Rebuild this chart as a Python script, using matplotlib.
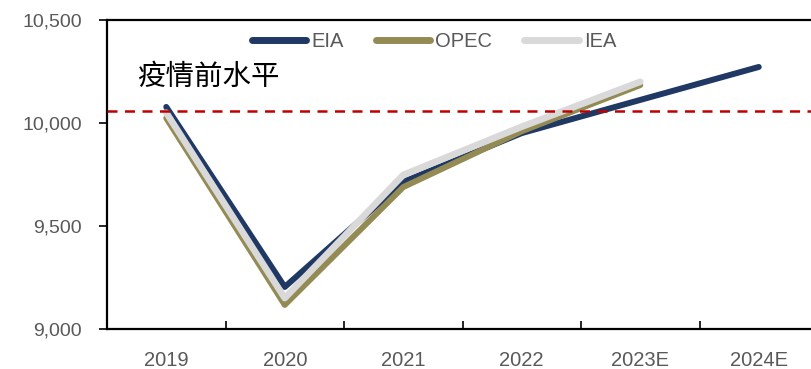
import matplotlib
matplotlib.use("Agg")
import matplotlib.pyplot as plt
import numpy as np

categories = ["2019", "2020", "2021", "2022", "2023E", "2024E"]
eia = [10078, 9204, 9714, 9951, 10112, 10272]
opec = [10024, 9117, 9689, 9960, 10184]
iea = [10050, 9150, 9748, 9982, 10200]
pre_covid = 10058
annotation = "疫情前水平"

plt.rcParams['font.family'] = ['Liberation Sans', 'DejaVu Sans']

fig = plt.figure(figsize=(8.11, 3.69), dpi=100)
ax = fig.add_axes([107/811, 40/369, 711/811, 309/369])

x = np.arange(len(categories))
ax.plot(x[:len(eia)], eia, color="#1F3864", lw=4.3, solid_capstyle="round", zorder=3, label="EIA")
ax.plot(x[:len(opec)], opec, color="#948A54", lw=4.3, solid_capstyle="round", zorder=4, label="OPEC")
ax.plot(x[:len(iea)], iea, color="#D9D9D9", lw=4.8, solid_capstyle="round", zorder=5, label="IEA")
ax.axhline(pre_covid, color="#C00000", lw=1.8, ls=(0, (4, 3)), zorder=6)

ax.text(-0.25, 10225, annotation, fontsize=20.5, family=['Noto Sans CJK SC', 'DejaVu Sans'],
        color="black", va="center", ha="left")

ax.set_xlim(-0.5, 5.5)
ax.set_ylim(9000, 10500)
ax.set_yticks([9000, 9500, 10000, 10500])
ax.set_yticklabels(["9,000", "9,500", "10,000", "10,500"])

ax.set_xticks(np.arange(0.5, 5.0, 1.0))
ax.set_xticklabels([])
ax.tick_params(axis="x", which="major", direction="in", length=6, width=1.2, color="black")
ax.set_xticks(x, minor=True)
ax.set_xticklabels(categories, minor=True)
ax.tick_params(axis="x", which="minor", length=0, pad=16, labelsize=14.5, labelcolor="#595959")
ax.tick_params(axis="y", direction="out", length=6, width=1.2, labelsize=14, labelcolor="#595959", pad=12)

for s in ["left", "bottom", "top"]:
    ax.spines[s].set_linewidth(1.6)
    ax.spines[s].set_color("black")
ax.spines["right"].set_visible(False)

leg = ax.legend(loc="upper center", bbox_to_anchor=(0.46, 1.02), ncol=3, frameon=False,
                fontsize=14.5, handlelength=2.7, columnspacing=1.6, handletextpad=0.25,
                labelcolor="#595959")
for h in leg.legend_handles:
    h.set_solid_capstyle("round")
    h.set_linewidth(5)

fig.savefig("out.png", dpi=100)
